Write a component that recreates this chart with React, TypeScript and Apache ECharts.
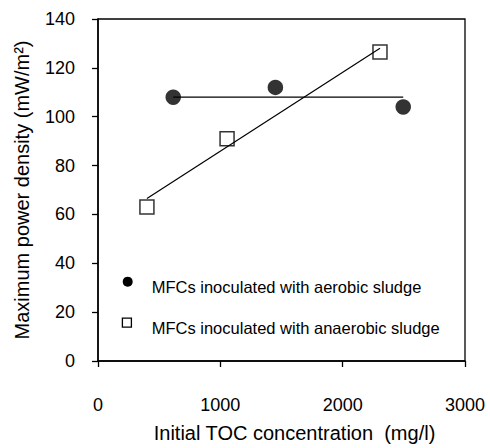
import React, { useEffect, useRef } from "react";
import * as echarts from "echarts";

const aerobicX = [615, 1450, 2495];
const aerobicY = [108, 112, 104];
const anaerobicX = [400, 1055, 2305];
const anaerobicY = [63, 91, 126.5];
const aerobicFitX = [615, 2495];
const aerobicFitY = [108, 108];
const anaerobicFitX = [400, 2305];
const anaerobicFitY = [66.5, 128];

const aerobicName = "MFCs inoculated with aerobic sludge";
const anaerobicName = "MFCs inoculated with anaerobic sludge";
const xTitle = "Initial TOC concentration  (mg/l)";
const yTitle = "Maximum power density (mW/m²)";

const FONT = "'Liberation Sans', Arial, sans-serif";

const zip = (xs: number[], ys: number[]) => xs.map((x, i) => [x, ys[i]]);

export default function App() {
  const ref = useRef<HTMLDivElement>(null);
  useEffect(() => {
    if (!ref.current) return;
    const chart = echarts.init(ref.current, undefined, { renderer: "svg" });
    chart.setOption({
      animation: false,
      backgroundColor: "#fff",
      textStyle: { fontFamily: FONT },
      grid: {
        left: 98,
        top: 19,
        width: 367,
        height: 345,
        show: true,
        borderColor: "#000",
        borderWidth: 1.3,
        containLabel: false,
      },
      graphic: [
        {
          type: "circle",
          shape: { cx: 127.7, cy: 281.7, r: 5 },
          style: { fill: "#000" },
        },
        {
          type: "text",
          x: 151.7,
          y: 287,
          style: {
            text: aerobicName,
            fontSize: 16.5,
            fontFamily: FONT,
            fill: "#000",
            verticalAlign: "middle",
            align: "left",
          },
        },
        {
          type: "rect",
          shape: { x: 122.4, y: 318.2, width: 9, height: 9 },
          style: { fill: "#fff", stroke: "#000", lineWidth: 1.3 },
        },
        {
          type: "text",
          x: 151.7,
          y: 328,
          style: {
            text: anaerobicName,
            fontSize: 16.5,
            fontFamily: FONT,
            fill: "#000",
            verticalAlign: "middle",
            align: "left",
          },
        },
      ],
      xAxis: {
        type: "value",
        min: 0,
        max: 3000,
        interval: 1000,
        splitLine: { show: false },
        axisLine: { onZero: false, lineStyle: { color: "#000", width: 1.5 } },
        axisTick: { show: true, inside: false, length: 6, lineStyle: { color: "#000", width: 1.3 } },
        axisLabel: {
          margin: 35,
          fontSize: 18,
          color: "#000",
          fontFamily: FONT,
          formatter: (v: number) => String(v),
        },
        name: xTitle,
        nameLocation: "middle",
        nameGap: 62,
        nameTextStyle: { fontSize: 20, color: "#000", fontFamily: FONT, padding: [0, 0, 0, 26] },
      },
      yAxis: {
        type: "value",
        min: 0,
        max: 140,
        interval: 20,
        splitLine: { show: false },
        axisLine: { onZero: false, lineStyle: { color: "#000", width: 1.5 } },
        axisTick: { show: true, inside: false, length: 6, lineStyle: { color: "#000", width: 1.3 } },
        axisLabel: { margin: 23, fontSize: 18, color: "#000", fontFamily: FONT },
        name: yTitle,
        nameLocation: "middle",
        nameGap: 66,
        nameRotate: 90,
        nameTextStyle: { fontSize: 20, color: "#000", fontFamily: FONT },
      },
      series: [
        {
          name: aerobicName,
          type: "scatter",
          data: zip(aerobicX, aerobicY),
          symbol: "circle",
          symbolSize: 15.5,
          itemStyle: { color: "#000" },
          z: 2,
        },
        {
          name: anaerobicName,
          type: "scatter",
          data: zip(anaerobicX, anaerobicY),
          symbol: "rect",
          symbolSize: 14,
          itemStyle: { color: "#fff", borderColor: "#000", borderWidth: 1.5 },
          z: 2,
        },
        {
          name: "aerobicFit",
          type: "line",
          data: zip(aerobicFitX, aerobicFitY),
          symbol: "none",
          lineStyle: { color: "#000", width: 1.2 },
          z: 3,
        },
        {
          name: "anaerobicFit",
          type: "line",
          data: zip(anaerobicFitX, anaerobicFitY),
          symbol: "none",
          lineStyle: { color: "#000", width: 1.2 },
          z: 3,
        },
      ],
    });
    return () => chart.dispose();
  }, []);
  return <div ref={ref} style={{ width: 490, height: 448, position: "absolute", left: 0, top: 0 }} />;
}
